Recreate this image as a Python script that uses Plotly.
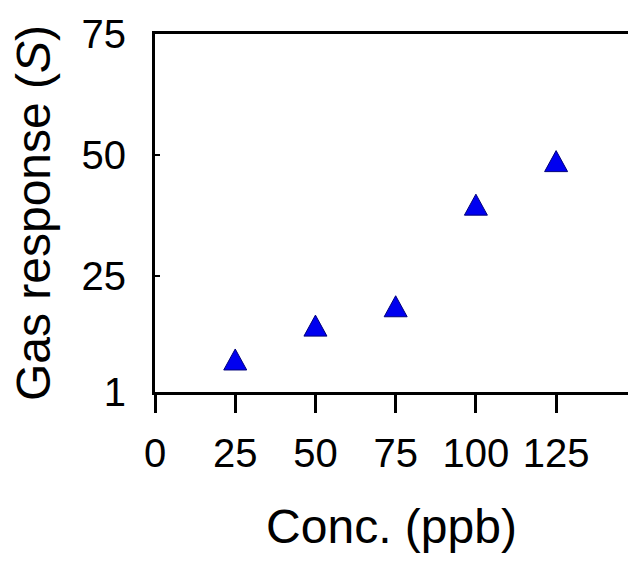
import plotly.graph_objects as go

# Gas response vs. concentration
conc_ppb = [25, 50, 75, 100, 125]
gas_response = [7, 14, 18, 39, 48]

x_ticks = [0, 25, 50, 75, 100, 125]
y_ticks = [1, 25, 50, 75]

FONT = "Liberation Sans, Arial, sans-serif"
FILL = "#0000F0"
EDGE = "#00007A"

# Equilateral-looking triangle in pixel units, centroid at the anchor point
TRI_HALF_W = 11.5
TRI_UP = 14
TRI_DOWN = 7
TRI_PATH = f"M {-TRI_HALF_W} {-TRI_DOWN} L {TRI_HALF_W} {-TRI_DOWN} L 0 {TRI_UP} Z"

fig = go.Figure(
    go.Scatter(
        x=conc_ppb,
        y=gas_response,
        mode="markers",
        marker=dict(size=22, color="rgba(0,0,0,0)"),
        hovertemplate="%{x} ppb: %{y}<extra></extra>",
        showlegend=False,
    )
)

# Triangle glyphs anchored at each data point on the axes
for cx, cy in zip(conc_ppb, gas_response):
    fig.add_shape(
        type="path",
        xref="x",
        yref="y",
        xsizemode="pixel",
        ysizemode="pixel",
        xanchor=cx,
        yanchor=cy,
        path=TRI_PATH,
        fillcolor=FILL,
        line=dict(color=EDGE, width=1),
        layer="above",
    )

fig.update_layout(
    width=628,
    height=563,
    margin=dict(l=155, r=0, t=34, b=171),
    paper_bgcolor="white",
    plot_bgcolor="white",
    font=dict(family=FONT, color="black"),
)

fig.update_xaxes(
    range=[0, 147.4],
    tickvals=x_ticks,
    ticktext=[str(v) for v in x_ticks],
    ticks="outside",
    ticklen=18,
    tickwidth=3,
    tickcolor="black",
    showline=True,
    linecolor="black",
    linewidth=3,
    mirror=True,
    showgrid=False,
    zeroline=False,
    tickfont=dict(size=40),
    ticklabelstandoff=6,
    title=dict(text="Conc. (ppb)", font=dict(size=48), standoff=36),
    automargin=False,
)

fig.update_yaxes(
    range=[1, 75],
    tickvals=y_ticks,
    ticktext=[str(v) for v in y_ticks],
    ticks="inside",
    ticklen=5,
    tickwidth=2,
    tickcolor="black",
    showline=True,
    linecolor="black",
    linewidth=3,
    mirror=False,
    showgrid=False,
    zeroline=False,
    tickfont=dict(size=40),
    ticklabelstandoff=18,
    title=dict(text="Gas response (<i>S</i>)", font=dict(size=48), standoff=16),
    automargin=False,
)

fig.write_html("out.html")
